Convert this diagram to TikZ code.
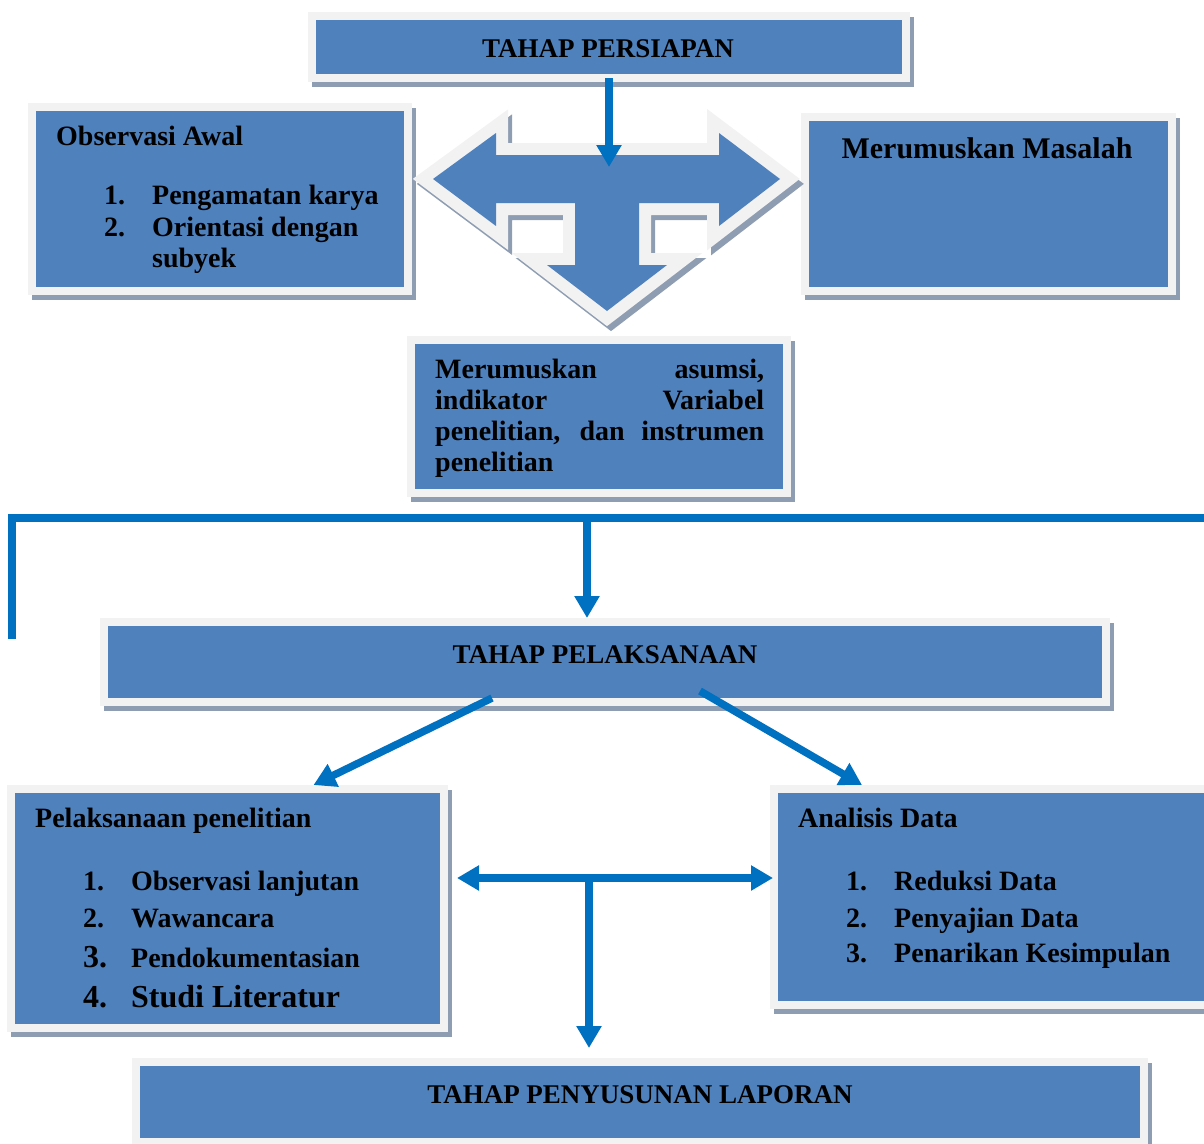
\documentclass[tikz,border=0pt]{standalone}
\usepackage{fontspec}
\setmainfont{Liberation Serif}
\usetikzlibrary{arrows.meta}
\definecolor{boxblue}{HTML}{4F81BD}
\definecolor{framegrey}{HTML}{F2F2F2}
\definecolor{shadowgrey}{RGB}{142,157,178}
\definecolor{connblue}{HTML}{0070C0}
\begin{document}
\begin{tikzpicture}[x=1pt,y=-1pt,
  box/.style={draw=framegrey, fill=boxblue, line width=8pt, inner sep=0pt, rectangle,
    preaction={draw=shadowgrey, fill=shadowgrey, line width=8pt, transform canvas={shift={(4pt,-5pt)}}}},
  conn/.style={draw=connblue, line width=7.5pt},
  arr/.style={conn, -{Triangle[width=24pt,length=22pt]}},
  hd/.style={inner sep=0pt, anchor=base, font=\fontsize{27}{31}\selectfont\bfseries},
  tx/.style={inner sep=0pt, anchor=base west, font=\fontsize{28}{31}\selectfont\bfseries},
  big/.style={inner sep=0pt, anchor=base west, font=\fontsize{32}{34}\selectfont\bfseries},
]
\useasboundingbox (0,0) rectangle (1204,1143);
\clip (0,0) rectangle (1204,1143);

% boxes
\node[box, minimum width=594pt, minimum height=62pt] (P) at (609,47) {};
\node[box, minimum width=376pt, minimum height=184pt] (OA) at (220,199) {};
\node[box, minimum width=367pt, minimum height=174pt] (MM) at (988.5,204) {};
\node[box, minimum width=376pt, minimum height=153pt] (MA) at (599,416.5) {};
\node[box, minimum width=1002pt, minimum height=80pt] (PL) at (605,662) {};
\node[box, minimum width=433pt, minimum height=239pt] (PE) at (227.5,908.5) {};
\node[box, minimum width=446pt, minimum height=216pt] (AD) at (997,897) {};
\node[box, minimum width=1008pt, minimum height=80pt] (PN) at (640,1102) {};

% three-way block arrow
\draw[draw=shadowgrey, line width=24pt, line join=miter, shift={(4,5)}]
  (433,179) -- (496,133) -- (496,155) -- (719,155) -- (719,133) -- (780,179) -- (719,226) -- (719,203) -- (639,203) -- (639,265) -- (667,265) -- (607,311) -- (547,265) -- (575,265) -- (575,203) -- (496,203) -- (496,226) -- cycle;
\draw[draw=framegrey, line width=24pt, line join=miter]
  (433,179) -- (496,133) -- (496,155) -- (719,155) -- (719,133) -- (780,179) -- (719,226) -- (719,203) -- (639,203) -- (639,265) -- (667,265) -- (607,311) -- (547,265) -- (575,265) -- (575,203) -- (496,203) -- (496,226) -- cycle;
\fill[boxblue]
  (433,179) -- (496,133) -- (496,155) -- (719,155) -- (719,133) -- (780,179) -- (719,226) -- (719,203) -- (639,203) -- (639,265) -- (667,265) -- (607,311) -- (547,265) -- (575,265) -- (575,203) -- (496,203) -- (496,226) -- cycle;

% texts
\node[hd] (Pt) at (608,57) {TAHAP PERSIAPAN};
\node[tx] (OAt) at (56,145) {Observasi Awal};
\node[tx] (OA1n) at (104,204) {1.};
\node[tx] (OA1) at (152,204) {Pengamatan karya};
\node[tx] (OA2n) at (104,236) {2.};
\node[tx] (OA2) at (152,236) {Orientasi dengan};
\node[tx] (OA2b) at (152,267) {subyek};
\node[tx, anchor=base, font=\fontsize{30}{33}\selectfont\bfseries] (MMt) at (987,158) {Merumuskan Masalah};
\node[inner sep=0pt, anchor=base west] (MAt) at (435,378)
  {\parbox[t]{329pt}{\fontsize{28}{31.3}\selectfont\bfseries Merumuskan asumsi,\linebreak indikator Variabel\linebreak penelitian, dan instrumen\linebreak penelitian}};
\node[hd] (PLt) at (605,663) {TAHAP PELAKSANAAN};
\node[tx] (PEt) at (35,827) {Pelaksanaan penelitian};
\node[tx] (PE1n) at (83,890) {1.};
\node[tx] (PE1) at (131,890) {Observasi lanjutan};
\node[tx] (PE2n) at (83,927) {2.};
\node[tx] (PE2) at (131,927) {Wawancara};
\node[big] (PE3n) at (83,967) {3.};
\node[tx] (PE3) at (131,967) {Pendokumentasian};
\node[big] (PE4n) at (83,1007) {4.};
\node[big] (PE4) at (131,1007) {Studi Literatur};
\node[tx] (ADt) at (798,827) {Analisis Data};
\node[tx] (AD1n) at (846,890) {1.};
\node[tx] (AD1) at (894,890) {Reduksi Data};
\node[tx] (AD2n) at (846,927) {2.};
\node[tx] (AD2) at (894,927) {Penyajian Data};
\node[tx] (AD3n) at (846,962) {3.};
\node[tx] (AD3) at (894,962) {Penarikan Kesimpulan};
\node[hd] (PNt) at (640,1103) {TAHAP PENYUSUNAN LAPORAN};

% connectors
\coordinate (Ttip) at (609,167);
\draw[arr] ([yshift=4pt]P.south) -- (Ttip);
\coordinate (brB) at (11.5,639);
\coordinate (brR) at (1215,518);
\coordinate (brM) at (587,518);
\draw[conn, line width=8pt] (brB) |- (brR);
\draw[arr] (brM) -- ([xshift=-18pt]PL.north);
\draw[arr] ([shift={(-113pt,8pt)}]PL.south) -- ([xshift=86pt]PE.north);
\draw[arr] ([shift={(95pt,15pt)}]PL.south) -- ([xshift=-135pt]AD.north);
\draw[conn, {Triangle[width=24pt,length=22pt]}-{Triangle[width=24pt,length=22pt]}]
  ([shift={(9pt,30.5pt)}]PE.east) -- ([shift={(3pt,19pt)}]AD.west);
\coordinate (mid) at (589,878);
\draw[arr] (mid) -- ([shift={(-51pt,10pt)}]PN.north);
\end{tikzpicture}
\end{document}
